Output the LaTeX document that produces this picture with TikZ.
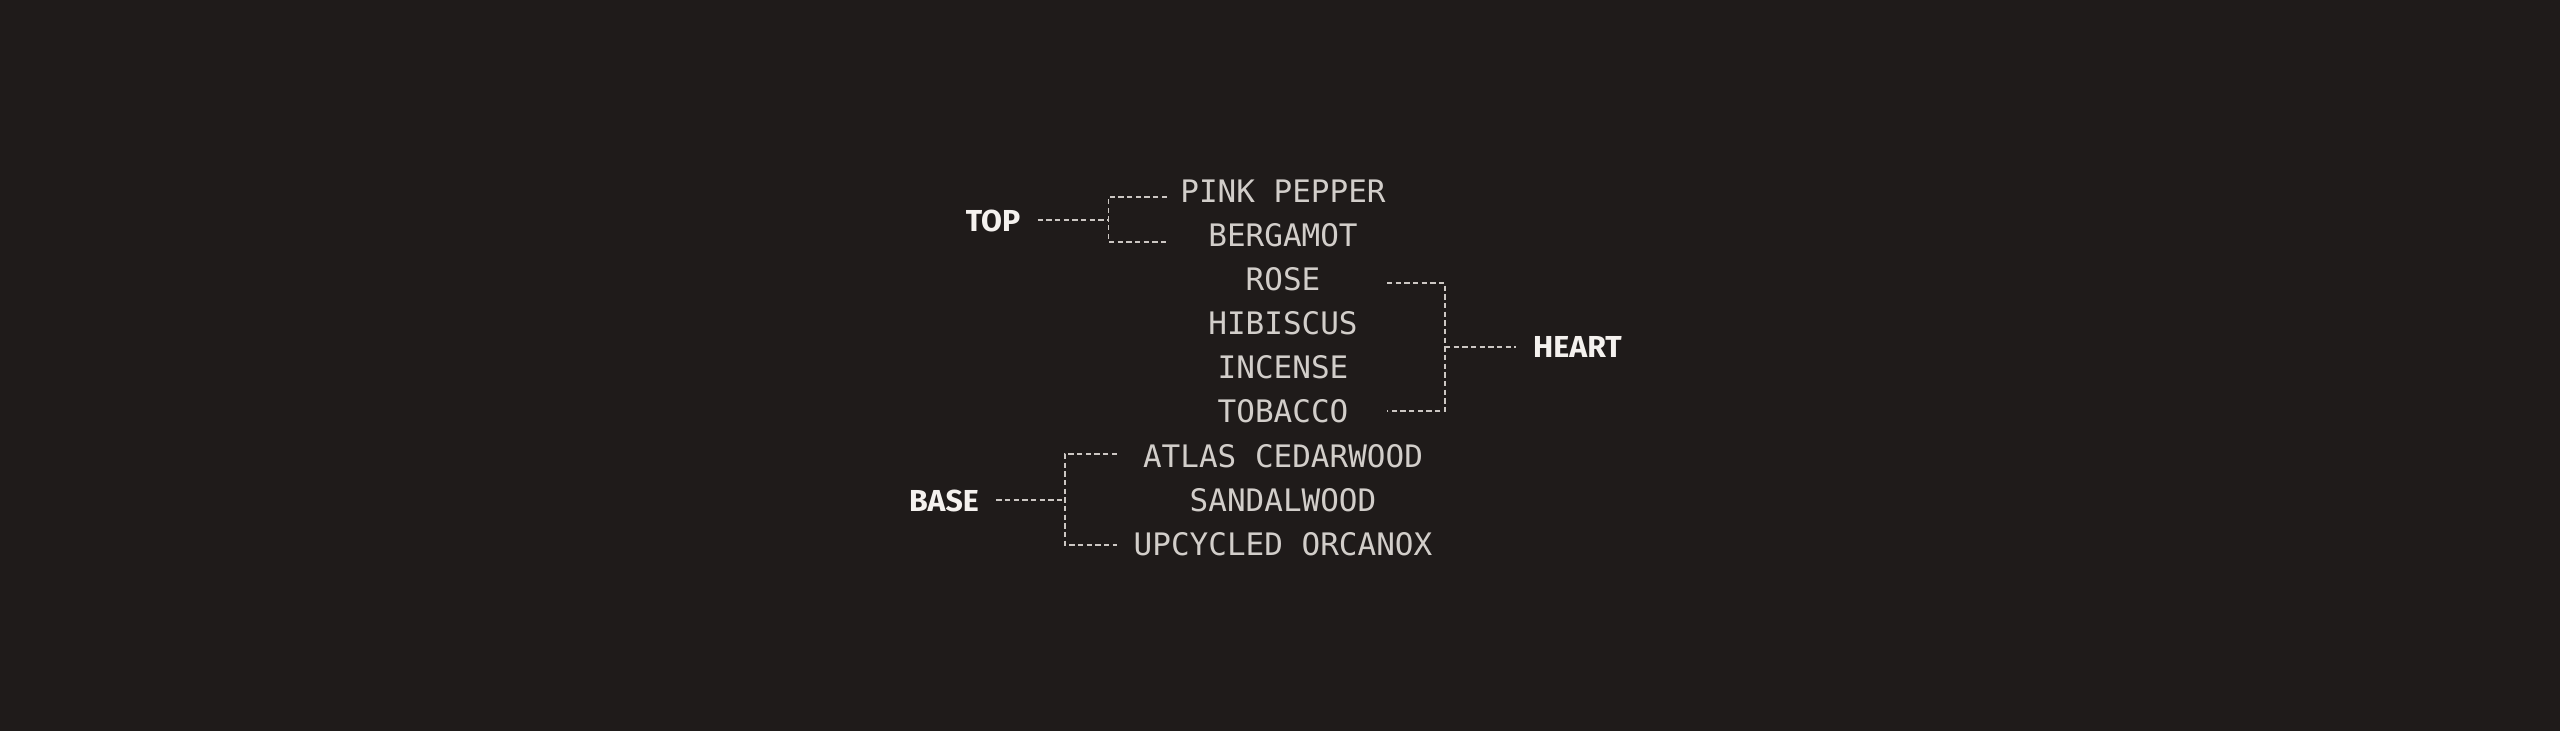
\documentclass[tikz,border=0pt]{standalone}
\usepackage{fontspec}
\setsansfont{Fira Sans}
\newfontfamily\notefont{DejaVu Sans Mono}

\definecolor{bgcol}{HTML}{1F1B1A}
\definecolor{notecol}{HTML}{D2CECA}
\definecolor{labelcol}{HTML}{F4F1EE}
\definecolor{linecol}{HTML}{CCC7C3}

\tikzset{
    note/.style={text=notecol, inner sep=0pt, anchor=base,
        font=\notefont\fontsize{9.3}{11}\selectfont},
    layer/.style={text=labelcol, inner ysep=0pt, inner xsep=5pt, anchor=base,
        font=\sffamily\bfseries\fontsize{9.1}{11}\selectfont},
    tieline/.style={draw=linecol, line width=0.5pt, dash pattern=on 1.6pt off 1pt}
}

\begin{document}
\begin{tikzpicture}[x=0.3pt, y=-0.3pt]
        \fill[bgcol] (0,0) rectangle (2560,731);
        \useasboundingbox (0,0) rectangle (2560,731);
        % notes, top to bottom
        \node[note] (pink)     at (1283,203) {PINK PEPPER};
        \node[note] (bergamot) at (1283,247) {BERGAMOT};
        \node[note] (rose)     at (1283,291) {ROSE};
        \node[note] (hibiscus) at (1283,335) {HIBISCUS};
        \node[note] (incense)  at (1283,379) {INCENSE};
        \node[note] (tobacco)  at (1283,423) {TOBACCO};
        \node[note] (cedar)    at (1283,467.5) {ATLAS CEDARWOOD};
        \node[note] (sandal)   at (1283,511.5) {SANDALWOOD};
        \node[note] (orcanox)  at (1283,555.5) {UPCYCLED ORCANOX};
        % layers
        \node[layer] (top)   at (993,231.3)    {TOP};
        \node[layer] (heart) at (1577.5,357.5) {HEART};
        \node[layer] (base)  at (944,511.5)    {BASE};
        % brackets
        \coordinate (topj)   at (1108.5,220);
        \coordinate (topa)   at (1167,197);
        \coordinate (topb)   at (1167,242);
        \coordinate (heartj) at (1445,347);
        \coordinate (hearta) at (1387,283);
        \coordinate (heartb) at (1387,411);
        \coordinate (basej)  at (1065,500);
        \coordinate (basea)  at (1117,454);
        \coordinate (baseb)  at (1117,545);
        \draw[tieline] (topa) -| (topj) |- (topb);
        \draw[tieline] (top.east |- topj) -- (topj);
        \draw[tieline] (hearta) -| (heartj) |- (heartb);
        \draw[tieline] (heartj) -- (heart.west |- heartj);
        \draw[tieline] (basea) -| (basej) |- (baseb);
        \draw[tieline] (base.east |- basej) -- (basej);
    \end{tikzpicture}
\end{document}
